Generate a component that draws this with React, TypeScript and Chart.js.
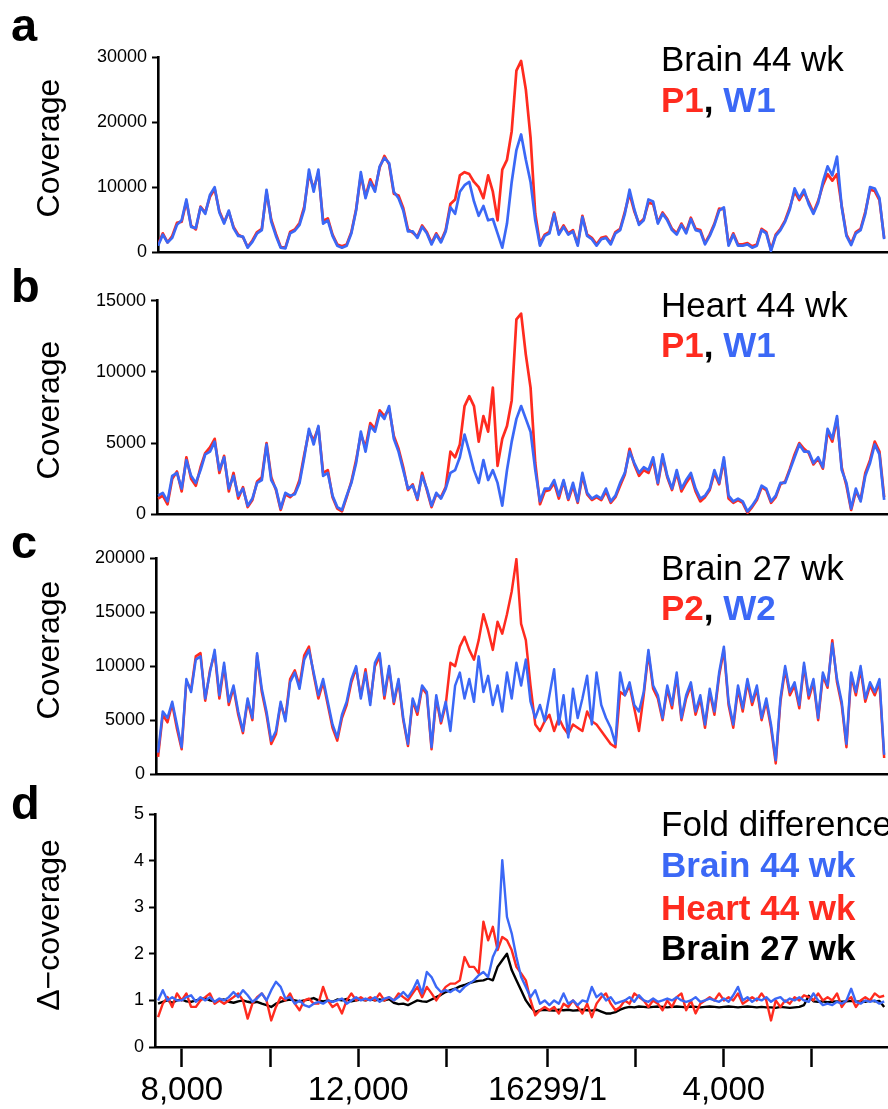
import React, { useEffect, useRef } from 'react';
import { Chart, registerables } from 'chart.js';

Chart.register(...registerables);

// ---------- data ----------
// Samples along the unwrapped mtDNA coordinate (16299/1 is the wrap point).
const POS_START = 7460;
const POS_STEP = 107;

const X_TICKS = [8000, 10000, 12000, 14000, 16299, 18299, 20299, 22299];
const X_TICK_LABELS = ['8,000', '', '12,000', '', '16299/1', '', '4,000', ''];

// a: Brain 44 wk
const BRAIN44_W1 = [
  1000, 2700, 1500, 2200, 4200, 4900, 8100, 3900, 3700, 6900,
  5900, 8800, 10000, 6100, 4400, 6400, 3700, 2500, 2400, 700,
  1600, 2900, 3400, 9600, 4700, 2500, 700, 600, 2900, 3300,
  4200, 6600, 12700, 9300, 12700, 4400, 4900, 2500, 1000, 700,
  1000, 2900, 6400, 12300, 8300, 10800, 9300, 13200, 14500, 13700,
  9300, 8300, 6400, 3200, 3200, 2200, 3900, 2900, 1200, 2700,
  1500, 3200, 6900, 5900, 9300, 10300, 10800, 7800, 5600, 7100,
  4900, 5100, 2900, 700, 4400, 10800, 15700, 18100, 14200, 10800,
  4900, 1000, 2500, 2900, 5900, 2700, 3900, 2700, 3200, 1000,
  5400, 2500, 2000, 1000, 2000, 2200, 1200, 2900, 3400, 5900,
  9600, 6600, 4200, 4900, 8100, 7800, 4400, 5900, 4900, 3400,
  2700, 4200, 2900, 5100, 3400, 3200, 1200, 2500, 4200, 6400,
  6900, 1000, 2700, 1000, 1000, 1200, 700, 1000, 3400, 2900,
  200, 2500, 3400, 4700, 6600, 9800, 8300, 9600, 7400, 5900,
  7600, 10800, 13200, 11800, 14700, 6900, 2500, 1100, 2900, 3400,
  5900, 10000, 9800, 8300, 2000,
];
const BRAIN44_P1 = [
  1200, 2900, 1500, 2500, 4500, 4700, 7800, 4100, 3500, 7000,
  6100, 8500, 9700, 6300, 4600, 6200, 3900, 2700, 2300, 800,
  1800, 3100, 3600, 9200, 5000, 2800, 800, 700, 3100, 3500,
  4500, 7000, 12000, 9800, 12200, 4800, 5200, 2700, 1200, 900,
  1200, 3100, 6600, 11800, 8600, 11200, 9600, 13000, 14800, 13500,
  9000, 8700, 6800, 3500, 3000, 2400, 4100, 3100, 1400, 2900,
  1700, 3400, 7400, 8100, 11800, 12300, 12000, 10800, 10000, 8300,
  11800, 9300, 4900, 12700, 14200, 18600, 27900, 29400, 25000, 17600,
  5900, 1300, 2700, 3100, 6100, 2900, 4100, 2900, 3400, 1200,
  5600, 2700, 2200, 1200, 2200, 2400, 1400, 3100, 3600, 6200,
  9000, 6300, 4400, 5100, 7600, 7400, 4600, 6100, 5100, 3600,
  2900, 4400, 3100, 5300, 3600, 3400, 1400, 2700, 4400, 6700,
  6600, 1200, 2900, 1200, 1200, 1400, 900, 1200, 3600, 3100,
  400, 2700, 3600, 4900, 6900, 9300, 8000, 9200, 7700, 6100,
  7900, 10300, 12000, 11000, 12000, 7100, 2700, 1300, 3100, 3600,
  6200, 9600, 9400, 8000, 2200,
];

// b: Heart 44 wk
const HEART44_W1 = [
  1300, 1500, 900, 2700, 2900, 1800, 3800, 2700, 2200, 3100,
  4200, 4400, 5100, 3100, 4000, 1800, 2700, 1300, 1800, 600,
  1100, 2200, 2400, 4900, 2400, 1800, 400, 1500, 1300, 1400,
  2200, 4000, 6000, 4900, 6200, 2700, 2900, 1300, 500, 300,
  1300, 2200, 3600, 5800, 4400, 6200, 5800, 7100, 6700, 7600,
  5300, 4400, 3100, 1800, 2000, 1100, 2700, 1800, 600, 1500,
  1100, 1800, 2900, 3100, 4000, 5600, 4400, 3100, 2200, 3800,
  2400, 3100, 2200, 600, 3100, 5100, 6700, 7600, 6700, 5800,
  3100, 900, 1800, 1800, 2400, 1300, 2400, 1100, 2200, 900,
  2900, 1500, 1100, 1300, 1100, 1800, 900, 1300, 2200, 2900,
  4400, 3600, 2900, 3300, 3100, 4000, 2200, 4200, 2700, 1800,
  3100, 1800, 2400, 2900, 1800, 1100, 1300, 1800, 3100, 2200,
  4000, 1300, 900, 1100, 900, 200, 600, 1100, 2000, 1800,
  900, 1300, 2200, 2200, 3100, 4000, 4900, 4400, 4400, 3600,
  4000, 3300, 6000, 5300, 6900, 3100, 2200, 400, 1800, 900,
  2700, 3600, 4900, 4200, 1000,
];
const HEART44_P1 = [
  1100, 1300, 700, 2500, 3000, 1600, 4000, 2500, 2000, 3300,
  4300, 4700, 5300, 2900, 4100, 1600, 2900, 1100, 1900, 500,
  1000, 2300, 2600, 5000, 2600, 1700, 300, 1400, 1200, 1500,
  2400, 4200, 5800, 5200, 6100, 2900, 3100, 1200, 400, 200,
  1200, 2300, 3800, 5600, 4700, 6400, 6000, 7300, 6900, 7400,
  5500, 4600, 3300, 1700, 2100, 1000, 2900, 1700, 500, 1400,
  1200, 1900, 4400, 4000, 4900, 7600, 8300, 7600, 5100, 6900,
  5800, 8900, 3400, 5300, 6200, 8000, 13700, 14100, 11200, 8900,
  3600, 700, 1600, 1700, 2200, 1100, 2300, 1000, 2000, 800,
  2700, 1400, 1000, 1200, 1000, 1600, 800, 1200, 2000, 2800,
  4600, 3500, 2700, 3100, 2900, 3800, 2100, 4000, 2600, 1700,
  2900, 1600, 2200, 2700, 1600, 900, 1200, 1700, 2900, 2100,
  3800, 1100, 800, 1000, 800, 100, 500, 1000, 1900, 1700,
  800, 1200, 2100, 2300, 3200, 4200, 5000, 4600, 4300, 3500,
  3900, 3200, 5800, 5100, 6700, 3300, 2000, 300, 1600, 1000,
  2900, 3800, 5100, 4400, 1200,
];

// c: Brain 27 wk
const BRAIN27_W2 = [
  2000, 5800, 5200, 6700, 4600, 2500, 8800, 7600, 10600, 10900,
  7000, 9400, 11500, 7300, 10300, 6700, 8200, 5800, 4000, 7000,
  5200, 11200, 7900, 5800, 3100, 4000, 6700, 4900, 8500, 9400,
  7900, 10600, 11500, 9400, 7300, 8800, 6700, 4600, 3400, 5500,
  6700, 8800, 10000, 7000, 9400, 6400, 10300, 11200, 7300, 10000,
  6700, 8800, 5200, 2800, 7000, 5800, 8200, 7600, 2500, 7300,
  4900, 6700, 4000, 8200, 9400, 7000, 8800, 6700, 10900, 7600,
  9100, 6400, 8200, 5800, 9400, 7000, 10300, 8200, 10600, 6700,
  5200, 6400, 4900, 7300, 9700, 4600, 7300, 3400, 7900, 5200,
  7000, 9100, 4600, 9400, 6400, 5200, 4300, 2800, 9400, 7300,
  8500, 6400, 5800, 7600, 11500, 8200, 7300, 5200, 8200, 6400,
  9400, 5200, 7300, 8500, 5800, 7300, 4600, 7900, 5800, 9400,
  11800, 6700, 4600, 8200, 6100, 8800, 6700, 8200, 5200, 7000,
  4600, 1300, 7000, 10000, 7600, 8500, 6400, 10300, 7300, 8800,
  5200, 9400, 8200, 12100, 8800, 6700, 2800, 9400, 7600, 10000,
  7000, 8500, 7600, 8800, 1800,
];
const BRAIN27_P2 = [
  1600, 5500, 4800, 6500, 4200, 2300, 8600, 7800, 10900, 11200,
  6800, 9600, 11200, 7000, 10000, 6400, 8000, 5500, 3800, 6800,
  5000, 11000, 7600, 5500, 2800, 3700, 6500, 5200, 8800, 9600,
  8200, 11000, 11800, 9200, 7000, 8500, 6400, 4300, 3100, 5200,
  6400, 8500, 9800, 7200, 9700, 6700, 10000, 10900, 7000, 9800,
  6500, 8600, 5000, 2600, 6800, 5500, 8000, 7400, 2300, 7000,
  4700, 6400, 10300, 10000, 11800, 12700, 11500, 10600, 12400, 14800,
  13300, 11500, 14100, 13000, 14800, 16900, 19900, 13900, 12400, 8200,
  4600, 4000, 4900, 5500, 4000, 5200, 4300, 3700, 4600, 4300,
  4000, 5800, 4900, 4600, 4000, 3400, 2800, 2500, 7600, 7300,
  8200, 6100, 4000, 7300, 11200, 7900, 7000, 5000, 7900, 6100,
  9100, 5000, 7000, 8200, 5500, 7000, 4300, 7600, 5500, 9100,
  11500, 6400, 4300, 7900, 5800, 8500, 6400, 7900, 5000, 6700,
  4300, 1000, 6700, 9700, 7300, 8200, 6100, 10000, 7000, 8500,
  5000, 9100, 8000, 12400, 8500, 6400, 2500, 9100, 7300, 9700,
  6700, 8200, 7300, 8500, 1500,
];

// d: fold difference (P / W)
const FOLD_BRAIN44 = [
  1.0, 1.22, 1.0, 1.07, 1.0, 1.0, 1.07, 1.11, 0.97, 1.07,
  1.0, 1.07, 0.97, 1.04, 1.0, 1.07, 1.18, 1.07, 1.22, 1.11,
  0.97, 1.04, 1.15, 1.0, 1.22, 1.4, 1.29, 1.04, 1.07, 0.93,
  1.0, 0.9, 0.86, 0.93, 0.97, 0.93, 1.0, 0.97, 1.0, 1.04,
  0.93, 1.0, 1.07, 1.0, 1.04, 1.0, 1.07, 0.97, 1.04, 1.07,
  1.0, 1.07, 1.18, 1.07, 1.22, 1.43, 1.15, 1.61, 1.5, 1.29,
  1.18, 1.22, 1.18, 1.25, 1.18, 1.29, 1.36, 1.43, 1.54, 1.61,
  1.5, 1.93, 2.15, 4.01, 2.79, 2.44, 1.93, 1.5, 1.29, 1.07,
  1.22, 0.93, 1.0, 0.9, 1.0, 0.93, 1.15, 0.93, 1.0, 0.9,
  1.0, 0.97, 1.29, 1.07, 1.15, 1.0, 1.07, 0.93, 0.97, 1.0,
  1.07, 0.97, 1.11, 1.0, 0.97, 1.04, 0.97, 1.0, 1.04, 1.0,
  1.07, 1.0, 0.97, 1.0, 1.07, 0.97, 1.0, 1.04, 1.0, 0.97,
  1.04, 0.97, 1.11, 1.29, 1.0, 1.07, 0.97, 1.04, 1.0, 1.07,
  0.97, 1.04, 1.07, 0.97, 1.04, 1.0, 1.07, 1.0, 0.97, 1.15,
  1.0, 0.9, 0.93, 0.9, 0.97, 0.93, 1.0, 1.25, 0.97, 0.93,
  1.0, 0.97, 1.0, 0.93, 0.98,
];
const FOLD_HEART44 = [
  0.64, 0.93, 1.07, 0.86, 1.15, 1.0, 1.15, 0.86, 0.86, 1.0,
  1.07, 1.15, 0.93, 1.0, 0.93, 1.0, 1.07, 1.15, 1.0, 0.61,
  0.93, 1.07, 1.15, 1.0, 0.57, 0.86, 1.07, 1.0, 1.15, 0.93,
  0.79, 1.0, 1.04, 0.93, 0.93, 1.29, 1.0, 0.86, 0.93, 0.72,
  1.0, 1.15, 1.0, 1.07, 1.0, 1.07, 1.0, 1.15, 1.0, 1.07,
  1.0, 1.15, 1.07, 1.0, 1.15, 1.29, 1.07, 1.29, 1.15, 1.0,
  1.15, 1.29, 1.36, 1.36, 1.43, 1.93, 1.72, 1.72, 1.58, 2.69,
  2.29, 2.58, 2.08, 2.36, 2.29, 2.08, 1.72, 1.58, 1.43, 1.0,
  0.68, 0.79, 0.86, 0.79, 0.86, 0.72, 0.93, 0.86, 1.0, 0.86,
  0.72, 0.93, 0.64, 0.93, 1.07, 1.15, 0.93, 0.79, 0.86, 1.0,
  0.93, 1.15, 1.07, 1.0, 0.86, 1.0, 0.93, 0.79, 1.0, 0.86,
  1.07, 1.15, 0.79, 1.0, 0.72, 0.93, 1.0, 1.07, 1.0, 1.15,
  1.0, 1.07, 1.0, 1.15, 0.93, 1.0, 1.07, 1.0, 1.15, 1.0,
  0.57, 1.0, 0.86, 1.0, 0.93, 1.07, 1.0, 1.11, 1.07, 1.0,
  1.15, 1.0, 1.07, 1.0, 1.15, 0.86, 1.0, 1.07, 0.86, 1.0,
  1.07, 1.0, 1.15, 1.07, 1.1,
];
const FOLD_BRAIN27 = [
  0.93, 0.97, 1.0, 0.95, 1.0, 1.02, 0.98, 0.97, 1.0, 1.02,
  1.05, 1.0, 0.98, 1.0, 1.02, 0.97, 0.95, 0.98, 1.0, 0.97,
  0.95, 0.97, 0.93, 0.9, 0.86, 0.93, 0.97, 1.0, 1.02, 1.0,
  0.98, 1.0, 1.02, 1.05, 1.0, 0.98, 1.0, 0.97, 1.02, 1.0,
  1.03, 0.98, 1.0, 1.02, 1.0, 1.03, 1.0, 1.02, 1.0, 1.03,
  0.95, 0.92, 0.93, 0.9, 0.95, 1.0, 0.98, 0.97, 1.02, 1.07,
  1.12, 1.18, 1.22, 1.25, 1.3, 1.33, 1.37, 1.4, 1.42, 1.43,
  1.47, 1.43, 1.72, 1.86, 2.0, 1.65, 1.43, 1.22, 1.0, 0.86,
  0.75, 0.79, 0.8, 0.79, 0.78, 0.8, 0.79, 0.8, 0.78, 0.79,
  0.8, 0.79, 0.78, 0.8, 0.76, 0.72, 0.72, 0.75, 0.8, 0.84,
  0.86, 0.85, 0.87, 0.86, 0.85, 0.86, 0.87, 0.86, 0.85, 0.86,
  0.87, 0.86, 0.85, 0.87, 0.86, 0.85, 0.86, 0.87, 0.86, 0.85,
  0.86, 0.87, 0.86, 0.85, 0.86, 0.87, 0.86, 0.85, 0.86, 0.85,
  0.85, 0.84, 0.86, 0.85, 0.84, 0.85, 0.86, 0.9, 1.1, 0.98,
  0.97, 0.98, 0.96, 0.97, 0.98, 0.97, 0.98, 0.99, 0.97, 0.98,
  0.97, 1.0, 0.98, 0.99, 0.86,
];

// ---------- styles ----------
const FONT = '"Liberation Sans", Arial, Helvetica, sans-serif';
const RED = '#ff2b1f';
const BLUE = '#3b68f6';
const BLACK = '#000000';

const toPoints = (vals: number[]) => vals.map((v, i) => ({ x: POS_START + i * POS_STEP, y: v }));

type Layout = {
  top: number; height: number; axisLeft: number; xMin: number;
  padTop: number; padBottom: number; xHeight: number; yMax: number; yStep: number;
  showX: boolean; lineWidth: number; integerLabelsOnly: boolean;
};

const X_MAX = 24025;

const LAYOUTS: Layout[] = [
  { top: 40, height: 228, axisLeft: 158, xMin: 7458, padTop: 17, padBottom: 8, xHeight: 0, yMax: 30000, yStep: 10000, showX: false, lineWidth: 2.7, integerLabelsOnly: false },
  { top: 285, height: 245, axisLeft: 157, xMin: 7435, padTop: 15, padBottom: 7, xHeight: 0, yMax: 15000, yStep: 5000, showX: false, lineWidth: 2.7, integerLabelsOnly: false },
  { top: 540, height: 250, axisLeft: 156, xMin: 7413, padTop: 18, padBottom: 8, xHeight: 0, yMax: 20000, yStep: 5000, showX: false, lineWidth: 2.5, integerLabelsOnly: false },
  { top: 795, height: 314, axisLeft: 155, xMin: 7390, padTop: 19, padBottom: 0, xHeight: 62, yMax: 5, yStep: 0.5, showX: true, lineWidth: 2.4, integerLabelsOnly: true },
];

const SERIES = [
  [{ data: BRAIN44_W1, color: BLUE, label: 'W1' }, { data: BRAIN44_P1, color: RED, label: 'P1' }],
  [{ data: HEART44_W1, color: BLUE, label: 'W1' }, { data: HEART44_P1, color: RED, label: 'P1' }],
  [{ data: BRAIN27_W2, color: BLUE, label: 'W2' }, { data: BRAIN27_P2, color: RED, label: 'P2' }],
  [
    { data: FOLD_BRAIN44, color: BLUE, label: 'Brain 44 wk' },
    { data: FOLD_HEART44, color: RED, label: 'Heart 44 wk' },
    { data: FOLD_BRAIN27, color: BLACK, label: 'Brain 27 wk' },
  ],
];

function buildConfig(L: Layout, series: { data: number[]; color: string; label: string }[]): any {
  return {
    type: 'line',
    data: {
      datasets: series.map((s) => ({
        label: s.label,
        data: toPoints(s.data),
        borderColor: s.color,
        backgroundColor: s.color,
        borderWidth: L.lineWidth,
        borderJoinStyle: 'round',
        pointRadius: 0,
        tension: 0,
        fill: false,
      })),
    },
    options: {
      animation: false,
      responsive: false,
      maintainAspectRatio: false,
      devicePixelRatio: 1,
      events: [],
      layout: { padding: { top: L.padTop, bottom: L.padBottom, left: 0, right: 0 } },
      plugins: { legend: { display: false }, tooltip: { enabled: false }, title: { display: false } },
      scales: {
        x: {
          type: 'linear',
          min: L.xMin,
          max: X_MAX,
          afterBuildTicks: (s: any) => { s.ticks = X_TICKS.map((v) => ({ value: v })); },
          afterFit: (s: any) => { s.height = L.xHeight; },
          grid: {
            display: L.showX,
            drawOnChartArea: false,
            drawTicks: true,
            tickLength: 20,
            tickWidth: 2.5,
            tickColor: BLACK,
          },
          border: { display: true, color: BLACK, width: 2.6 },
          ticks: {
            display: L.showX,
            autoSkip: false,
            maxRotation: 0,
            minRotation: 0,
            padding: 4,
            color: BLACK,
            font: { family: FONT, size: 33 },
            callback: (v: any) => {
              const i = X_TICKS.indexOf(Number(v));
              return i >= 0 ? X_TICK_LABELS[i] : '';
            },
          },
        },
        y: {
          min: 0,
          max: L.yMax,
          afterFit: (s: any) => { s.width = L.axisLeft; },
          grid: {
            display: true,
            drawOnChartArea: false,
            drawTicks: true,
            tickLength: 6,
            tickWidth: 2,
            tickColor: BLACK,
          },
          border: { display: true, color: BLACK, width: 2.6 },
          ticks: {
            stepSize: L.yStep,
            padding: 5,
            color: BLACK,
            font: { family: FONT, size: 18 },
            callback: (v: any) => {
              const n = Number(v);
              if (L.integerLabelsOnly && !Number.isInteger(n)) return '';
              return String(n);
            },
          },
        },
      },
    },
  };
}

function Txt(props: { x: number; baseline: number; size: number; bold?: boolean; color?: string; children: React.ReactNode }) {
  const { x, baseline, size, bold, color, children } = props;
  return (
    <div
      style={{
        position: 'absolute',
        left: x,
        top: baseline - 0.8465 * size,
        fontFamily: FONT,
        fontSize: size,
        lineHeight: `${size}px`,
        fontWeight: bold ? 700 : 400,
        color: color || BLACK,
        whiteSpace: 'nowrap',
      }}
    >
      {children}
    </div>
  );
}

function VTxt(props: { cx: number; cy: number; size: number; children: React.ReactNode }) {
  const { cx, cy, size, children } = props;
  return (
    <div
      style={{
        position: 'absolute',
        left: cx,
        top: cy,
        transform: 'translate(-50%, -50%) rotate(-90deg)',
        fontFamily: FONT,
        fontSize: size,
        lineHeight: `${size}px`,
        color: BLACK,
        whiteSpace: 'nowrap',
      }}
    >
      {children}
    </div>
  );
}

export default function App() {
  const r0 = useRef<HTMLCanvasElement>(null);
  const r1 = useRef<HTMLCanvasElement>(null);
  const r2 = useRef<HTMLCanvasElement>(null);
  const r3 = useRef<HTMLCanvasElement>(null);
  const refs = [r0, r1, r2, r3];

  useEffect(() => {
    const charts = LAYOUTS.map((L, k) => new Chart(refs[k].current as HTMLCanvasElement, buildConfig(L, SERIES[k])));
    return () => charts.forEach((c) => c.destroy());
  }, []);

  const LEG_X = 661;
  const LEG_SIZE = 35;
  return (
    <div style={{ position: 'absolute', left: 0, top: 0, width: 888, height: 1109, background: '#fff', overflow: 'hidden' }}>
      {LAYOUTS.map((L, k) => (
        <canvas
          key={k}
          ref={refs[k]}
          width={888}
          height={L.height}
          style={{ position: 'absolute', left: 0, top: L.top, width: 888, height: L.height }}
        />
      ))}

      <Txt x={11} baseline={41} size={47} bold>a</Txt>
      <Txt x={11} baseline={302} size={47} bold>b</Txt>
      <Txt x={11} baseline={558} size={47} bold>c</Txt>
      <Txt x={11} baseline={819} size={47} bold>d</Txt>

      <VTxt cx={48} cy={148} size={32}>Coverage</VTxt>
      <VTxt cx={48} cy={410} size={32}>Coverage</VTxt>
      <VTxt cx={48} cy={650} size={32}>Coverage</VTxt>
      <VTxt cx={48} cy={925} size={32}>Δ−coverage</VTxt>

      <Txt x={LEG_X} baseline={71} size={LEG_SIZE}>Brain 44 wk</Txt>
      <Txt x={LEG_X} baseline={112} size={LEG_SIZE} bold>
        <span style={{ color: RED }}>P1</span>, <span style={{ color: BLUE }}>W1</span>
      </Txt>

      <Txt x={LEG_X} baseline={317} size={LEG_SIZE}>Heart 44 wk</Txt>
      <Txt x={LEG_X} baseline={357} size={LEG_SIZE} bold>
        <span style={{ color: RED }}>P1</span>, <span style={{ color: BLUE }}>W1</span>
      </Txt>

      <Txt x={LEG_X} baseline={580} size={LEG_SIZE}>Brain 27 wk</Txt>
      <Txt x={LEG_X} baseline={620} size={LEG_SIZE} bold>
        <span style={{ color: RED }}>P2</span>, <span style={{ color: BLUE }}>W2</span>
      </Txt>

      <Txt x={LEG_X} baseline={836} size={LEG_SIZE}>Fold difference</Txt>
      <Txt x={LEG_X} baseline={877} size={LEG_SIZE} bold color={BLUE}>Brain 44 wk</Txt>
      <Txt x={LEG_X} baseline={920} size={LEG_SIZE} bold color={RED}>Heart 44 wk</Txt>
      <Txt x={LEG_X} baseline={960} size={LEG_SIZE} bold color={BLACK}>Brain 27 wk</Txt>
    </div>
  );
}
